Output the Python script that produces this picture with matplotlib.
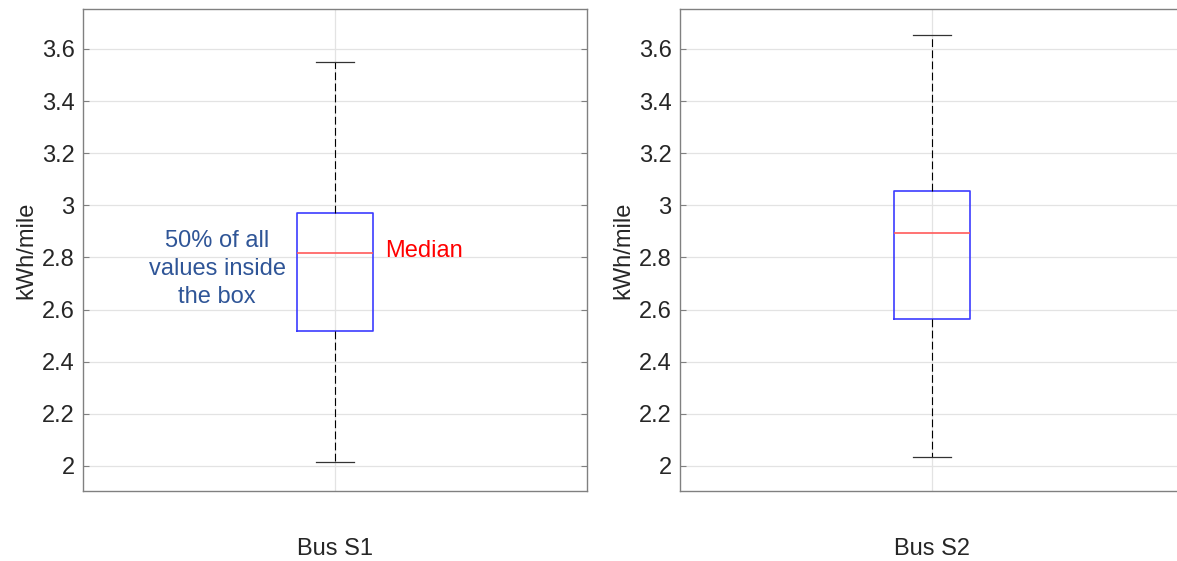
import matplotlib.pyplot as plt
import matplotlib

matplotlib.rcParams['font.family'] = ['Liberation Sans', 'DejaVu Sans']

# box statistics (kWh/mile)
buses = ['Bus S1', 'Bus S2']
whisker_low = [2.015, 2.035]
q1 = [2.518, 2.564]
median = [2.817, 2.894]
q3 = [2.971, 3.055]
whisker_high = [3.55, 3.654]

yticks = [2.0, 2.2, 2.4, 2.6, 2.8, 3.0, 3.2, 3.4, 3.6]
yticklabels = ['2', '2.2', '2.4', '2.6', '2.8', '3', '3.2', '3.4', '3.6']

W, H = 1177, 561
fig = plt.figure(figsize=(W / 100, H / 100), dpi=100)

spine_col = '#808080'
text_col = '#262626'
lefts = [83, 680]

axes = []
for i, name in enumerate(buses):
    ax = fig.add_axes([lefts[i] / W, (H - 491) / H, 504 / W, 482 / H])
    stats = [dict(med=median[i], q1=q1[i], q3=q3[i],
                  whislo=whisker_low[i], whishi=whisker_high[i], fliers=[])]
    ax.bxp(stats, positions=[1], widths=0.15, showfliers=False,
           boxprops=dict(color='#3c3cff', linewidth=1.2),
           medianprops=dict(color='#ff5a5a', linewidth=1.2),
           whiskerprops=dict(color='black', linewidth=0.8, linestyle=(0, (7, 3))),
           capprops=dict(color='#333333', linewidth=0.9),
           capwidths=0.075)
    ax.set_xlim(0.5, 1.5)
    ax.set_ylim(1.904, 3.753)
    ax.set_yticks(yticks, yticklabels)
    ax.set_xticks([1], [name])
    ax.grid(True, color='#e3e3e3', linewidth=0.9)
    ax.set_axisbelow(True)
    for s in ax.spines.values():
        s.set_color(spine_col)
        s.set_linewidth(1.0)
    ax.tick_params(axis='y', direction='in', right=True, length=4,
                   color=spine_col, labelcolor=text_col, labelsize=17, pad=6)
    ax.tick_params(axis='x', direction='in', top=False, bottom=False, length=0,
                   labelcolor=text_col, labelsize=17, pad=34)
    ax.set_ylabel('kWh/mile', fontsize=17, color=text_col, labelpad=3)
    axes.append(ax)

ax = axes[0]
ax.text(0.766, 2.756, '50% of all\nvalues inside\nthe box', ha='center', va='center',
        fontsize=17, color='#2f5597', linespacing=1.35)
ax.text(1.1, 2.826, 'Median', ha='left', va='center', fontsize=17, color='#ff0000')

fig.savefig('out.png', dpi=100)
